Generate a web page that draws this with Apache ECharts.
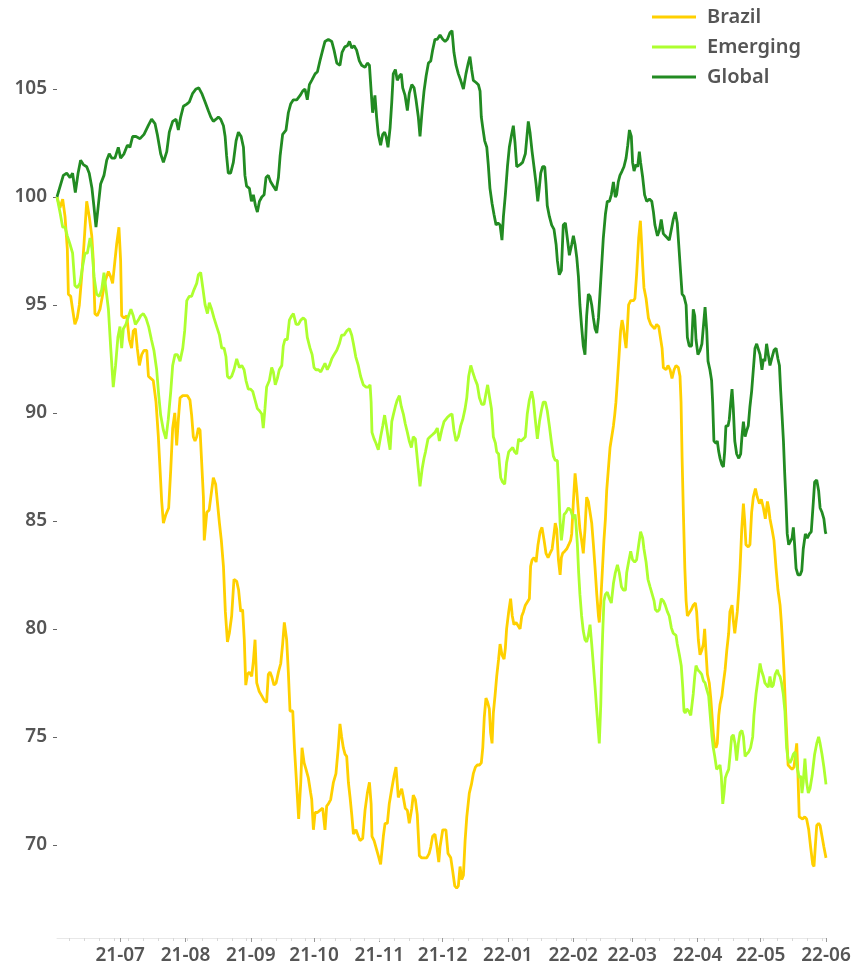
<!DOCTYPE html>
<html>
<head>
<meta charset="utf-8">
<style>
html,body{margin:0;padding:0;background:#fff;}
#chart{width:858px;height:965px;}
</style>
<script src="https://cdn.jsdelivr.net/npm/echarts/dist/echarts.min.js"></script>
</head>
<body>
<div id="chart"></div>
<script>
// x values: days since 2021-06-01
const seriesNames = ['Brazil', 'Emerging', 'Global'];
const monthLabels = ['2021-07','2021-08','2021-09','2021-10','2021-11','2021-12','2022-01','2022-02','2022-03','2022-04','2022-05','2022-06'];
const yTicks = [70, 75, 80, 85, 90, 95, 100, 105];

const brazil = [[0,100],[1.4,99.5],[2.7,99.9],[3.8,99.1],[4.9,97.6],[5.4,95.5],[6.5,95.4],[7.4,94.8],[8.5,94.1],[9.6,94.4],[10.6,95],[11.7,96.3],[12.8,97.8],[14.1,99.8],[15.3,99.1],[16.5,98.2],[17.2,97.1],[18,94.6],[19.1,94.5],[20.4,94.8],[21.7,95.5],[22.8,96.1],[24.4,96.55],[25.5,96.3],[26.4,96],[27.5,97.05],[28.3,97.8],[29.4,98.6],[30.2,97.05],[30.7,94.5],[31.8,94.4],[33.1,94.5],[34.3,93.4],[35.4,93],[36.2,93.8],[37.2,93.9],[38.1,93],[39.1,92.2],[40.2,92.7],[41.3,92.9],[42.6,92.9],[43.4,91.7],[44.5,91.6],[45.7,91.5],[47,90.5],[48.1,88.9],[48.9,87.4],[49.7,85.9],[50.5,84.9],[51.7,85.3],[53,85.6],[54,87.4],[54.9,89.3],[55.9,90],[56.8,88.5],[57.6,89.7],[58.4,90.7],[59.7,90.8],[60.8,90.8],[61.9,90.8],[63.1,90.6],[63.9,89.9],[64.7,88.9],[65.5,88.7],[66.3,88.9],[67.1,89.3],[67.9,89.2],[68.7,89.2],[69.5,86.1],[69.9,84.1],[71.1,85.4],[72.2,85.5],[73.1,85.5],[74.2,87],[75.3,86.7],[76.1,85.9],[77.1,84.9],[78,84.1],[79,82.9],[79.9,80.8],[80.9,79.4],[81.8,79.8],[82.9,80.6],[84,82.3],[85.3,82.2],[86.2,81.8],[87.2,80.8],[88.1,80.9],[88.9,79.5],[89.6,77.4],[90.4,77.9],[91.3,78],[92.4,77.8],[93.2,78.5],[94,79.5],[94.8,77.5],[96,77.1],[97.2,76.9],[98.3,76.7],[99.5,76.6],[100.3,77.9],[101.1,78],[101.9,77.8],[103,77.4],[104,77.5],[105.1,78],[106.2,78.4],[107.1,79.3],[107.9,80.3],[109,79.5],[109.8,78],[110.6,76.2],[111.9,76.2],[112.7,74.5],[113.8,72.7],[114.7,71.2],[115.7,72.9],[116.3,74.5],[117.3,73.8],[118.2,73.5],[119.3,73.1],[120.4,72.4],[120.9,72.1],[121.7,70.7],[122.5,71.5],[123.6,71.5],[124.8,71.6],[126.1,71.7],[127.2,70.7],[128,71.8],[128.8,71.9],[129.9,72.1],[131.2,72.9],[132.4,73.3],[133.5,74.5],[134.3,75.6],[135.1,75],[135.9,74.5],[136.7,74.2],[137.5,74.1],[138.3,72.9],[139.1,72.2],[139.9,71.4],[140.7,70.5],[141.9,70.7],[143,70.4],[143.8,70.2],[145.1,70.3],[146.2,71.6],[147.3,72.4],[148.3,72.9],[149.1,71.9],[149.5,70.4],[150.5,70.2],[151.4,70.2],[152.5,69.5],[153.6,69.1],[154.3,69.1],[154.9,70.4],[155.7,71],[156.8,71],[157.7,71.9],[158.9,72.6],[160,73.2],[160.9,73.6],[162,72.2],[162.8,72.4],[163.6,72.6],[164.4,72.2],[165.3,71.7],[166.3,71.6],[167.2,71],[168.4,71.7],[169.1,72.3],[170.1,72.1],[171,71.4],[172,69.5],[173.1,69.4],[174.2,69.4],[175.5,69.4],[176.6,69.6],[177.4,69.9],[178.3,70.4],[179.4,70.5],[180.2,70],[181.2,69.2],[181.8,69.9],[183.1,70.7],[184.6,70.7],[185.6,69.6],[186.9,69.4],[187.8,68.8],[188.8,68.1],[189.7,68],[190.5,68.1],[191.3,69],[192.1,68.4],[192.9,68.6],[193.7,70.2],[194.5,71.3],[195.7,72.4],[196.7,72.8],[197.6,73.3],[198.6,73.6],[199.5,73.7],[200.5,73.7],[201.4,73.8],[202.1,74.5],[202.8,75.9],[203.6,76.8],[204.4,76.6],[205.2,76.3],[205.8,75.2],[206.5,74.7],[207.1,76.1],[207.9,76.9],[208.7,77.8],[209.6,78.6],[210.3,79.3],[211.2,78.8],[212.2,78.6],[212.8,79.1],[213.4,80],[214.4,80.8],[215.3,81.4],[216.1,80.6],[216.9,80.2],[217.9,80.3],[218.8,80.3],[219.8,80],[220.6,80.6],[221.4,80.8],[222.3,81.1],[223.2,81.1],[224.2,81.4],[224.8,82.9],[225.5,83.2],[226.4,83.3],[227.4,83.1],[228.3,83.9],[229.3,84.5],[230.2,84.7],[231.2,84.1],[232.1,83.5],[233.1,83.3],[234,83.5],[235,83.7],[235.9,84.4],[236.5,84.9],[237.2,84.6],[238,83.2],[238.8,82.5],[239.4,83.3],[240,83.5],[241,83.6],[241.9,83.7],[242.9,83.9],[243.8,84.1],[244.3,84.4],[245.1,85.9],[245.9,87.2],[246.7,86.4],[247.5,85.4],[248.2,84.6],[249,84.1],[249.8,83.5],[250.6,84.6],[251.4,86.1],[252.2,85.9],[253,85.4],[253.8,84.9],[254.6,83.9],[255.4,82.8],[256.2,81.6],[257,80.6],[257.4,80.3],[258.1,81.3],[258.8,82.6],[259.6,84.1],[260.3,85.1],[260.9,86.4],[261.7,87.4],[262.5,88.4],[263.3,88.9],[264.1,89.4],[264.7,89.9],[265.3,90.5],[266,91.5],[266.8,92.7],[267.5,93.8],[268.2,94.3],[268.8,94],[269.4,93.5],[270.1,93],[270.7,93.9],[271.3,95],[272.3,95.2],[273.6,95.2],[274.3,95.3],[275.1,96.4],[276.1,98.1],[276.9,98.9],[277.5,97.8],[278,96.8],[278.6,95.8],[279.6,95.3],[280.7,94.4],[281.8,94.1],[282.7,94],[283.7,93.9],[284.6,94.1],[285.6,94],[286.5,94],[287.2,93],[287.8,92.1],[289.1,92],[290,92.2],[291,92],[291.9,91.6],[292.9,92],[293.8,92.2],[294.9,92.1],[295.7,91.7],[296.2,90.5],[296.7,87.9],[297.3,85.4],[298,82.8],[298.6,81.3],[299.2,80.6],[300.1,80.6],[301.1,80.9],[302,81.1],[303,81.2],[303.6,80.8],[304.4,79.5],[305.2,78.8],[306,79],[306.8,79.3],[307.4,80],[308,79],[308.7,77.9],[309.6,77.5],[310.3,76.8],[310.9,76],[311.5,75.2],[312.2,74.6],[312.8,74.5],[313.4,74.7],[314.1,76],[314.7,76.5],[315.6,76.9],[316.3,77.5],[317.1,78.1],[317.9,79],[318.8,79.8],[319.4,80.8],[320.4,81.1],[321,80.4],[321.7,79.8],[322.3,80.3],[322.9,80.8],[323.6,81.8],[324.2,82.8],[325,84.6],[325.8,85.8],[326.4,85],[327,83.9],[328.1,83.8],[328.9,83.9],[329.7,85.4],[330.5,86.1],[331.5,86.5],[332.4,86.1],[333.4,85.8],[334.3,86],[335.3,85.6],[336.2,85.1],[337.2,85.9],[337.8,85.6],[338.4,85.1],[339.4,84.6],[340.3,84.1],[341.3,82.8],[342.2,81.8],[343.2,81.1],[343.8,80.3],[344.4,79.3],[345.1,78],[345.7,76.5],[346.3,75.2],[347,73.7],[347.9,73.6],[348.9,73.5],[349.8,73.6],[350.4,74.1],[351.1,74.7],[351.7,73.2],[352.3,71.3],[353,71.3],[353.9,71.2],[354.9,71.3],[355.8,71.2],[356.8,70.7],[357.7,69.9],[358.7,69.1],[359.3,69],[359.9,69.9],[360.6,70.9],[361.5,71],[362.2,70.9],[363.1,70.4],[364,69.9],[365,69.4]];

const emerging = [[0,100],[1.4,99.3],[2.7,98.6],[3.8,98.6],[4.9,98.2],[6.2,97.8],[7.4,97.4],[8.5,95.9],[9.6,95.8],[10.9,96],[12.2,96.8],[13.3,97.4],[14.4,97.4],[15.7,98.1],[16.6,97.6],[17.6,96.3],[18.8,95.5],[20.1,95.4],[21.2,95.7],[22.3,96.5],[23.3,95.7],[24.4,94.8],[25.5,93],[26.7,91.2],[27.8,92.2],[28.9,93.5],[29.9,94],[30.7,93],[31.5,93.9],[32.7,94.1],[34,94.5],[35.1,94.8],[36.2,94.5],[37.2,94.1],[38.6,94.3],[39.7,94.5],[41,94.6],[42.2,94.4],[43.5,94],[44.8,93.4],[46,92.9],[47.3,92],[48.3,90.8],[49.2,89.9],[50.5,89.2],[51.7,88.8],[52.8,89.7],[54,91],[54.9,92.2],[56,92.7],[57.1,92.7],[58.4,92.4],[59.7,93],[60.6,93.8],[61.6,95.2],[62.8,95.4],[63.9,95.4],[65,95.7],[66.3,96],[67.1,96.4],[68.2,96.5],[69.2,95.8],[70.3,95],[71.4,94.6],[72.3,95.1],[73.4,94.8],[74.5,94.4],[75.8,94],[77.1,93.6],[78.2,93],[79.3,93],[80.2,92.6],[80.9,91.7],[81.8,91.6],[82.9,91.7],[84,92],[85.3,92.5],[86.6,92.1],[87.7,92.2],[88.8,92],[89.7,91.5],[90.8,91.1],[91.9,91.1],[92.9,91],[94,90.6],[95.1,90.2],[96.1,90.1],[97.2,89.95],[97.9,89.3],[98.7,90.2],[99.5,91.2],[100.8,91.5],[101.9,92.1],[102.7,91.9],[103.6,91.3],[104.6,91.6],[105.5,92],[106.7,92.2],[107.4,93.1],[108.2,93.4],[109.3,93.4],[110.3,94.3],[111.4,94.5],[112.2,94.6],[113.5,94.1],[114.6,94.1],[115.7,94.3],[116.9,94.4],[117.9,94.3],[118.8,93.5],[120.1,93],[121.1,92.7],[122,92.1],[122.9,92],[124.1,92],[125.2,91.9],[126.1,91.9],[127.2,92.3],[128.3,92],[129.3,92.2],[130.4,92.5],[131.5,92.7],[132.8,92.9],[134,93.2],[135.1,93.6],[136.2,93.6],[137.5,93.8],[138.8,93.9],[139.9,93.6],[140.7,93.2],[141.8,92.6],[143,92.2],[144.1,91.7],[145.4,91.3],[146.7,91.2],[147.8,91.2],[148.6,91.3],[149.1,90.5],[149.5,89.1],[150.5,88.8],[151.4,88.6],[152.5,88.3],[153.6,88.9],[154.6,89.4],[155.5,89.9],[156.5,89.3],[157.4,88.7],[158.1,88.3],[158.9,89.6],[159.6,89.9],[160.6,90.3],[161.5,90.6],[162.5,90.8],[163.4,90.3],[164.4,89.95],[165.3,89.5],[166.3,89.1],[167.2,88.7],[168.2,88.4],[169.1,88.9],[170.1,88.8],[170.7,88.2],[171.5,87.4],[172.3,86.6],[173.3,87.4],[174.2,87.9],[174.9,88.2],[176.1,88.8],[177.1,88.9],[178.3,89],[179.4,89.1],[180.5,89.3],[181.5,88.7],[182.6,89.2],[183.7,89.6],[185.3,89.8],[186.5,89.9],[187.5,89.95],[188.4,89.2],[189.4,88.7],[190.5,88.9],[191.6,89.4],[192.6,89.7],[193.7,90.2],[194.5,90.7],[195.4,91.7],[196.4,92.2],[197.3,91.9],[198.3,91.6],[199.5,91.3],[200.5,90.7],[201.6,90.4],[202.7,90.4],[203.6,90.9],[204.4,91.3],[205.2,90.8],[206.2,90.2],[207.1,88.9],[208.1,88.6],[208.7,88.2],[209.6,88.1],[210.6,87],[211.5,86.8],[212.5,86.7],[213.4,87.7],[214.4,88.2],[215.3,88.3],[216.3,88.4],[217.2,88.2],[218.2,88.1],[219.1,88.8],[220.1,88.7],[221.4,88.8],[222.3,88.9],[223.2,89.95],[224.2,90.6],[225.3,91],[226.1,90.6],[227,89.7],[228,88.8],[229,89.6],[229.9,90.1],[230.8,90.5],[231.8,90.5],[232.7,90.1],[233.7,89.4],[234.6,88.7],[235.6,88],[236.5,87.8],[237.5,87.8],[238.1,86.6],[238.8,84.9],[239.4,84.1],[240,84.6],[240.7,85.3],[241.6,85.4],[242.7,85.6],[243.8,85.5],[245.1,85.1],[245.9,85.3],[246.3,84.9],[247,83.9],[247.6,82.6],[248.2,81.6],[249,80.6],[249.8,79.9],[250.6,79.5],[251.4,79.4],[252.2,79.7],[253,80.2],[253.8,79.3],[254.6,78.3],[255.4,77.3],[256.2,76.2],[257,75.2],[257.4,74.7],[258.1,76.5],[258.5,78.3],[259,79.8],[259.6,81.3],[260.3,81.6],[261.2,81.7],[262.2,81.4],[263.1,81.2],[264.1,82.1],[265,82.6],[266,82.97],[266.9,82.6],[267.9,81.95],[268.8,81.8],[269.8,81.8],[270.4,82.6],[271.3,83.1],[272.3,83.6],[273.2,83.2],[274.2,83.1],[275.1,83.2],[276.1,83.9],[277,84.5],[278,84.2],[278.6,83.7],[279.6,83.1],[280.5,82.3],[281.5,81.95],[282.4,81.95],[283.4,81.3],[284,80.9],[285,80.8],[285.9,80.9],[286.8,81.4],[287.8,81.3],[288.7,81.1],[289.7,80.8],[290.6,80.6],[291.6,80.05],[292.5,79.8],[293.8,79.7],[294.4,79.3],[295.4,78.8],[296.3,78.3],[297,77.3],[297.6,76.2],[298.2,76.1],[298.9,76.3],[299.8,76.2],[300.8,76],[301.4,76.5],[302,77],[302.7,77.8],[303.3,78.3],[304.2,78.1],[305.2,78],[306,77.9],[306.8,77.6],[307.6,77.5],[308.4,77.2],[309.3,76.9],[310.3,75.7],[310.9,75],[311.5,74.5],[312.2,74.1],[313.1,73.5],[313.9,73.5],[314.7,73.7],[315.3,73.2],[316,71.9],[316.6,72.4],[317.2,73.1],[317.9,73.3],[318.8,73.5],[319.4,74.1],[320.2,75],[321,75.1],[321.8,74.7],[322.6,73.9],[323.4,74.7],[324.2,75.2],[325.1,75.3],[325.8,75],[326.6,74.1],[327.3,74.2],[328.3,74.3],[329.2,74.5],[330.2,75],[330.8,76],[331.8,77],[332.9,77.8],[333.7,78.4],[334.3,78.1],[335.3,77.8],[336,77.5],[336.8,77.4],[337.6,77.3],[338.4,77.8],[339.2,77.3],[340,77.4],[340.9,77.9],[341.9,78.1],[342.5,77.9],[343.2,77.8],[343.9,77.5],[344.7,77],[345.5,76.2],[346.3,74.5],[347,73.96],[347.9,73.8],[348.7,73.96],[349.5,74.2],[350.4,74.3],[351.1,73.7],[351.7,73.4],[352.3,73.1],[353,73.2],[353.6,72.4],[354.2,72.9],[355,74],[355.8,72.9],[356.6,72.4],[357.4,72.6],[358.4,73.2],[359,73.7],[359.6,74.2],[360.6,74.7],[361.5,75],[362.2,74.7],[363.1,74.2],[364,73.6],[365,72.8]];

const global = [[0,100],[3,101],[4.6,101.1],[6.2,100.9],[7.4,101.1],[8.7,100.2],[10,101.1],[11.2,101.7],[12.5,101.5],[14.1,101.4],[15.3,101.1],[16.6,100.4],[17.6,99.5],[18.5,98.6],[19.6,99.6],[20.7,100.6],[22.3,101],[23.6,101.7],[24.8,102],[26,101.8],[27.5,101.8],[29.1,102.3],[30.2,101.8],[31.8,102],[33.4,102.4],[34.6,102.3],[35.9,102.8],[37.5,102.8],[39.4,102.7],[41.3,102.9],[43.3,103.3],[44.9,103.6],[46.5,103.4],[47.6,102.9],[49.2,102],[50.5,101.6],[52.1,102.1],[53.3,103],[54.9,103.5],[56.5,103.6],[57.6,103.1],[58.7,103.7],[60,104.2],[61.6,104.3],[62.8,104.4],[64.4,104.8],[66,105],[67.3,105.05],[68.7,104.8],[70.3,104.4],[71.8,104],[73,103.7],[74.2,103.5],[75.5,103.6],[76.6,103.7],[77.7,103.6],[79,103.3],[79.8,102.8],[80.5,101.9],[81.3,101.1],[82.4,101.1],[83.7,101.6],[85,102.6],[86.1,103],[87.4,102.8],[88.5,102.3],[89.2,101],[90,100.5],[91.3,100.4],[92.3,99.8],[93.2,100.1],[94.2,99.6],[95.1,99.3],[96.1,99.8],[97.2,100],[98.3,100.1],[99.2,100.9],[100.3,101],[101.4,100.7],[102.7,100.5],[104,100.3],[105.1,100.9],[105.9,101.9],[107.1,102.9],[108.7,103.1],[109.8,103.9],[110.9,104.3],[112.2,104.5],[113.8,104.5],[115.4,104.7],[116.6,104.9],[117.7,105],[118.8,104.5],[119.8,105.2],[120.9,105.4],[122.5,105.7],[123.6,105.8],[124.8,106.3],[126.1,106.8],[127.2,107.2],[128.8,107.3],[130.4,107.2],[131.5,106.8],[132.8,106.2],[134.3,106.1],[135.3,106.7],[136.6,106.95],[137.8,107],[138.8,107.2],[139.9,106.9],[141,107],[142.2,106.8],[143.5,106.3],[144.6,106.1],[146.2,106],[147.3,106.2],[148.3,106.1],[148.9,105.2],[149.8,103.9],[150.9,104.7],[151.7,103.7],[152.5,102.9],[153.6,102.4],[154.6,102.9],[155.5,103],[156.2,102.8],[157.1,102.3],[158.1,103.2],[158.9,104.4],[159.6,105.7],[160.6,105.9],[161.5,105.4],[162.5,105.6],[163.4,105.7],[164.1,105.05],[165.2,104.7],[166.3,104],[167.2,104.8],[168.4,105.2],[169.5,105.05],[170.4,104.5],[171.5,103.7],[172.3,102.8],[173.3,104],[174.2,104.9],[175.2,105.6],[176.3,106.2],[177.4,106.3],[178.3,106.8],[179.4,107.3],[180.5,107.3],[181.8,107.5],[183.1,107.3],[184.2,107.2],[185.3,107.3],[186.5,107.6],[187.5,107.7],[188.4,106.7],[189.4,106.1],[190.5,105.7],[191.6,105.4],[192.9,105],[194.1,105.7],[195.2,106.2],[196,106.5],[196.8,105.9],[197.6,105.4],[198.9,105.3],[200,105.2],[200.8,104.9],[201.4,103.7],[202.1,103.2],[203,102.6],[204,102.3],[204.7,101.5],[205.5,100.4],[206.5,99.7],[207.4,99.2],[208.4,98.7],[209.3,98.8],[210.3,98.7],[211.2,98],[211.9,99.1],[212.8,100.1],[213.8,101.4],[214.7,102.3],[215.8,102.9],[216.6,103.3],[217.4,102.5],[218.2,101.4],[219,101.4],[219.8,101.5],[221,101.6],[222.3,102],[223.7,103.5],[224.5,103],[225.5,102.1],[226.4,101.4],[227.4,100.6],[228.2,99.8],[228.9,100.4],[229.6,101.1],[230.5,101.4],[231.5,101.4],[232.1,100.6],[232.7,99.6],[233.7,99.1],[234.8,98.7],[235.9,98.5],[236.9,97.8],[237.5,97.05],[238.4,96.4],[239.4,96.6],[240.3,98.7],[241.3,98.8],[242.2,98.1],[243.2,97.3],[244.3,97.8],[245.1,98.2],[245.9,97.8],[246.7,97.2],[247.5,96.3],[248.2,95],[249,94],[249.8,93.1],[250.6,92.7],[251.4,94.5],[252.2,95.5],[253,95.4],[253.8,95],[254.6,94.4],[255.4,93.9],[256.2,93.7],[257,94.4],[257.7,95.5],[258.5,96.8],[259.3,98.1],[260.3,99.2],[261.2,99.8],[262.2,99.8],[263.1,100.1],[264.1,100.7],[265,100],[265.6,100.1],[266.4,100.7],[267.2,101],[268.2,101.2],[269.1,101.4],[270.1,101.8],[270.9,102.4],[271.7,103.1],[272.6,102.8],[273.2,101.6],[273.9,101.2],[274.8,101.5],[275.6,101.4],[276.4,102.1],[277,101.6],[278,100.9],[278.9,100.1],[279.9,99.8],[281.2,99.9],[282.3,99.8],[283.1,99.3],[283.8,98.7],[285,98.2],[285.9,98.45],[286.8,98.96],[287.8,98.3],[288.7,98.2],[289.7,98.1],[290.6,98],[291.8,98.6],[292.5,98.96],[293.5,99.3],[294.4,98.8],[295.1,97.8],[296,96.5],[296.7,95.5],[297.6,95.4],[298.6,95],[299.2,93.5],[300.1,93.1],[301.2,93.1],[302,94.8],[302.7,94.5],[303.3,93.4],[304.2,92.7],[305.2,92.9],[306.1,93.2],[307.6,94.9],[308.4,93.8],[309,92.4],[309.9,92],[310.7,91.5],[311.2,90.5],[311.8,88.7],[312.8,88.6],[313.4,88.7],[314.1,88.2],[314.7,87.9],[315.6,87.6],[316.3,87.5],[316.9,88.2],[317.5,89.4],[318.5,89.4],[319.1,89.7],[319.8,90.5],[320.4,91.1],[321,90.2],[321.7,88.7],[322.6,88.1],[323.6,87.9],[324.5,88.1],[325.1,88.9],[325.8,89.6],[326.6,88.9],[327.4,89.2],[328.1,89.4],[328.9,90.3],[329.7,91],[330.5,92],[331.3,93],[332.1,93.2],[332.9,93.2],[333.7,92.7],[334.6,92],[335.3,92.5],[336,92.4],[336.8,93.2],[337.6,92.7],[338.4,92.2],[339.2,92.5],[340.3,92.9],[341.3,93],[342.2,92.5],[342.9,92.2],[343.5,91],[344.1,89.95],[344.8,88.7],[345.4,87.2],[346,85.9],[346.6,84.4],[347.3,83.9],[347.9,83.9],[348.9,84.2],[349.5,84.7],[350.1,83.9],[350.8,82.8],[351.7,82.5],[352.7,82.5],[353.5,82.7],[354.2,83.7],[355.2,84.4],[356.1,84.2],[357.1,84.4],[358,84.5],[359,85.9],[359.6,86.8],[360.6,86.9],[361.5,86.4],[362.2,85.6],[363.1,85.4],[364,85.1],[364.7,84.5],[365,84.4]];

const colors = ['#FFD000', '#ADFF2F', '#228B22'];
const FONT = '"Noto Sans", "DejaVu Sans", sans-serif';
const DAY = 86400000;
const startTs = Date.UTC(2021, 5, 1);

function dayOf(s) { const p = s.split('-'); return Math.round((Date.UTC(+p[0], +p[1] - 1, 1) - startTs) / DAY); }
const monthDays = monthLabels.map(dayOf);
const labelByDay = {};
monthLabels.forEach((s, i) => { labelByDay[monthDays[i]] = s.slice(2); });
const weekDays = [];
for (let d = 6; d < 365; d += 7) weekDays.push(d);

const chart = echarts.init(document.getElementById('chart'), null, { renderer: 'canvas' });
const dataSets = [brazil, emerging, global];

chart.setOption({
  animation: false,
  backgroundColor: '#fff',
  grid: { left: 57, right: 32, top: 0, bottom: 27, containLabel: false, outerBoundsMode: 'none' },
  legend: {
    orient: 'vertical', left: 647, top: 2,
    itemWidth: 44, itemHeight: 3, itemGap: 10, icon: 'rect',
    data: seriesNames,
    textStyle: { fontFamily: FONT, fontSize: 20, color: '#555', fontWeight: 600, padding: [0, 0, 0, 6] }
  },
  xAxis: [{
    type: 'value', min: 0, max: 365,
    axisLine: { show: true, lineStyle: { color: '#e8e8e8', width: 1 } },
    axisTick: { show: true, customValues: monthDays, length: 4, lineStyle: { color: '#999' } },
    axisLabel: {
      customValues: monthDays, margin: 8, fontSize: 19, color: '#555', fontFamily: FONT, fontWeight: 600,
      hideOverlap: false,
      formatter: function (v) { return labelByDay[Math.round(v)] || ''; }
    },
    splitLine: { show: false }
  }, {
    type: 'value', min: 0, max: 365, position: 'bottom', gridIndex: 0,
    axisLine: { show: false },
    axisTick: { show: true, customValues: weekDays, length: 3, lineStyle: { color: '#d8d8d8' } },
    axisLabel: { show: false },
    splitLine: { show: false }
  }],
  yAxis: {
    type: 'value', min: 65.69, max: 109.12,
    axisLine: { show: false },
    axisTick: { show: true, customValues: yTicks, length: 4, lineStyle: { color: '#666' } },
    axisLabel: { customValues: yTicks, margin: 10, fontSize: 19, color: '#555', fontFamily: FONT, fontWeight: 600 },
    splitLine: { show: false }
  },
  series: seriesNames.map((name, i) => ({
    name: name, type: 'line', xAxisIndex: 0, yAxisIndex: 0,
    data: dataSets[i],
    showSymbol: false, symbol: 'none',
    lineStyle: { color: colors[i], width: 2.8 },
    itemStyle: { color: colors[i] },
    emphasis: { disabled: true }
  }))
});
</script>
</body>
</html>
